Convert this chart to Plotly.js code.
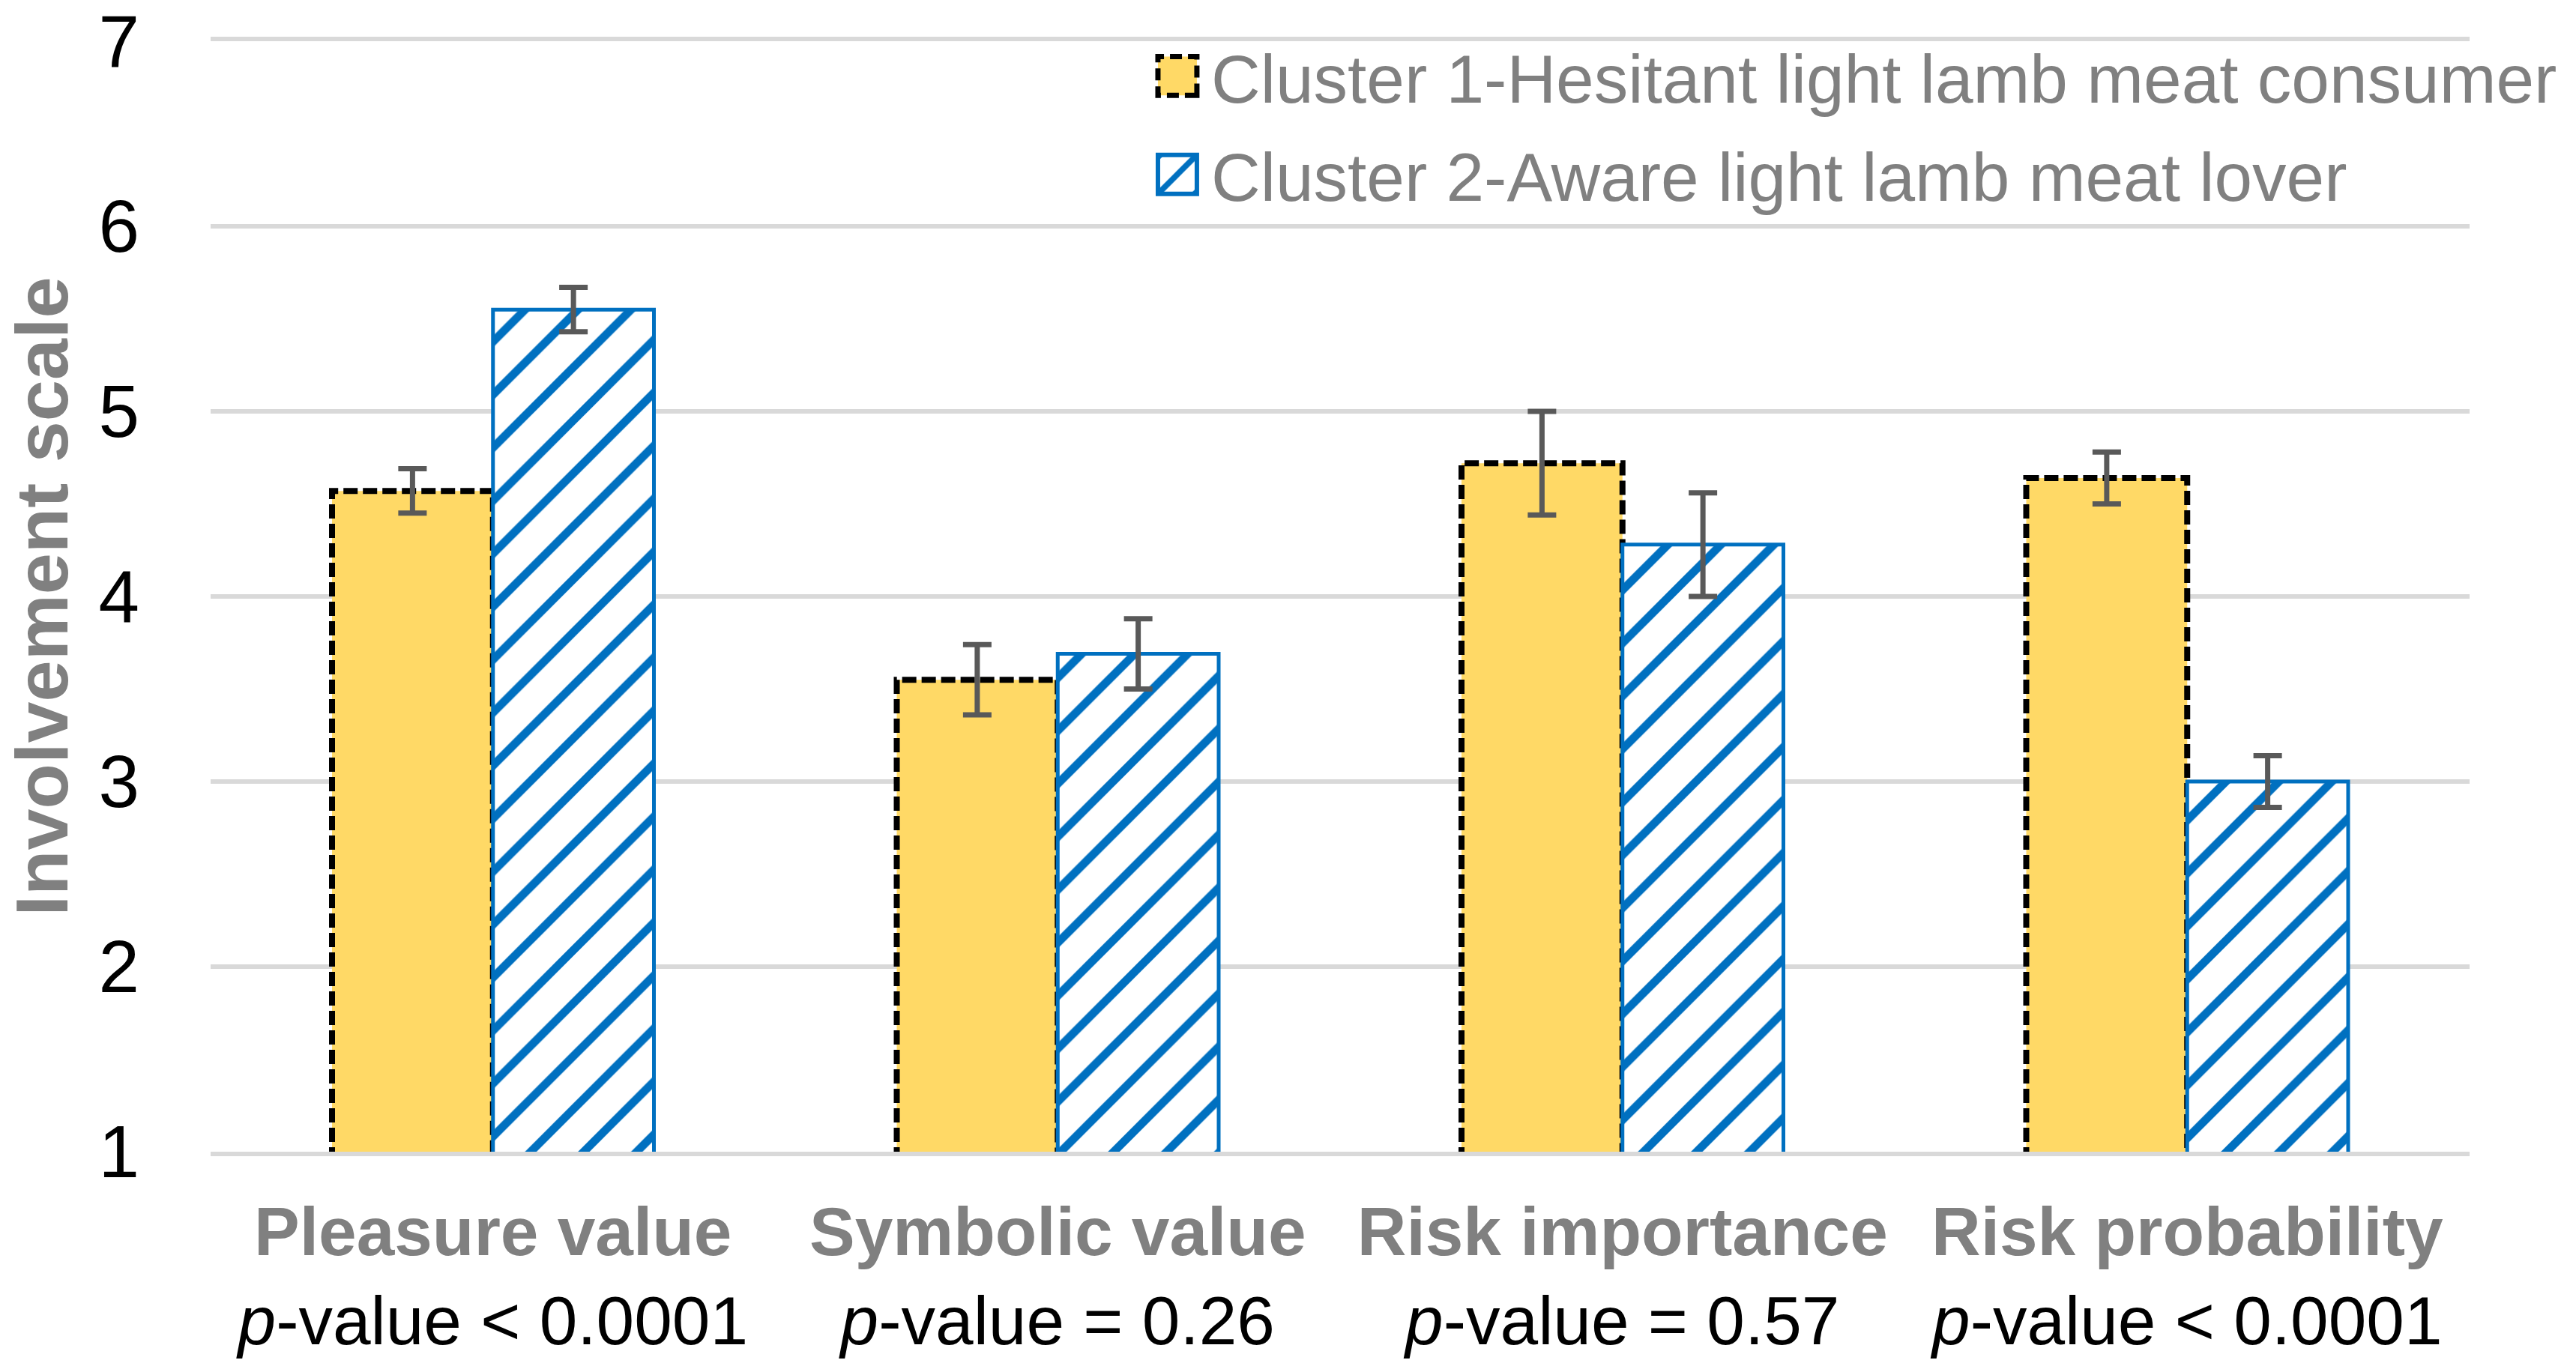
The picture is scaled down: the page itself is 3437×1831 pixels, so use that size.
<!DOCTYPE html>
<html>
<head>
<meta charset="utf-8">
<script src="https://cdn.plot.ly/plotly-3.0.1.min.js"></script>
<style>
  html, body { margin:0; padding:0; background:#fff; }
  #chart { width:3437px; height:1831px; }
</style>
</head>
<body>
<div id="chart"></div>
<script>
// ---- data ----
const categories = ["Pleasure value", "Symbolic value", "Risk importance", "Risk probability"];
const pValues = ["< 0.0001", "= 0.26", "= 0.57", "< 0.0001"];
const seriesNames = ["Cluster 1-Hesitant light lamb meat consumer", "Cluster 2-Aware light lamb meat lover"];
const cluster1 = [4.57, 3.55, 4.72, 4.64];
const cluster1Err = [0.12, 0.19, 0.28, 0.14];
const cluster2 = [5.55, 3.69, 4.28, 3.00];
const cluster2Err = [0.12, 0.19, 0.28, 0.14];
const yTicks = [1, 2, 3, 4, 5, 6, 7];

// ---- chart ----
const FONT = "Liberation Sans, Arial, sans-serif";
const tickText = categories.map((c, i) =>
  "<b>" + c + "</b><br><span style=\"color:#000000\"><i>p</i>-value " +
  pValues[i].replace("<", "&lt;") + "</span>");

const data = [
  {
    type: "bar", name: seriesNames[0], x: categories, y: cluster1,
    marker: { color: "#FFD966", line: { color: "#000000", width: 8 } },
    error_y: { type: "data", array: cluster1Err, visible: true, color: "#595959", thickness: 7, width: 19 },
    legendgroup: "a"
  },
  {
    type: "bar", name: seriesNames[1], x: categories, y: cluster2,
    marker: {
      color: "#FFFFFF",
      pattern: { shape: "/", fgcolor: "#0070C0", bgcolor: "#FFFFFF", size: 50, solidity: 0.22 },
      line: { color: "#0070C0", width: 5 }
    },
    error_y: { type: "data", array: cluster2Err, visible: true, color: "#595959", thickness: 7, width: 19 },
    legendgroup: "b"
  }
];

const layout = {
  width: 3437, height: 1831,
  margin: { l: 281, r: 142, t: 55, b: 294, pad: 0 },
  paper_bgcolor: "#FFFFFF", plot_bgcolor: "#FFFFFF",
  font: { family: FONT, color: "#808080", size: 91 },
  barmode: "group", bargap: 0.43, bargroupgap: 0,
  showlegend: true,
  legend: {
    x: 0.4177, xanchor: "left", y: 1.013, yanchor: "top",
    bgcolor: "rgba(0,0,0,0)", borderwidth: 0,
    font: { family: FONT, size: 91, color: "#808080" },
    tracegroupgap: 10, itemwidth: 66
  },
  xaxis: {
    type: "category", tickmode: "array", tickvals: categories, ticktext: tickText,
    showgrid: false, zeroline: false, showline: true, mirror: true, linecolor: "#D9D9D9", linewidth: 6,
    ticks: "", ticklabelstandoff: 23,
    tickfont: { family: FONT, size: 91, color: "#808080" }
  },
  yaxis: {
    range: [1, 7], tickmode: "array", tickvals: yTicks, ticktext: yTicks.map(String),
    showgrid: true, gridcolor: "#D9D9D9", gridwidth: 6, zeroline: false, showline: false,
    ticks: "", ticklabelstandoff: 94,
    tickfont: { family: FONT, size: 98, color: "#000000" },
    title: { text: "<b>Involvement scale</b>", font: { family: FONT, size: 99, color: "#808080" }, standoff: 36 }
  }
};

Plotly.newPlot("chart", data, layout, { staticPlot: true, displayModeBar: false }).then(gd => {
  const barTraces = gd.querySelectorAll(".barlayer .trace");
  if (barTraces[0]) {
    barTraces[0].querySelectorAll(".point path").forEach(p => { p.style.strokeDasharray = "19,7"; });
  }
  const legTraces = gd.querySelectorAll(".legend .traces");
  legTraces.forEach((t, i) => {
    const p = t.querySelector(".legendpoints path");
    if (p) {
      p.setAttribute("transform", "translate(31,0) scale(4.33,4.33)");
      p.style.vectorEffect = "non-scaling-stroke";
      p.style.strokeWidth = i === 0 ? "7px" : "6px";
      if (i === 0) p.style.strokeDasharray = "16,8";
    }
  });
});
</script>
</body>
</html>
